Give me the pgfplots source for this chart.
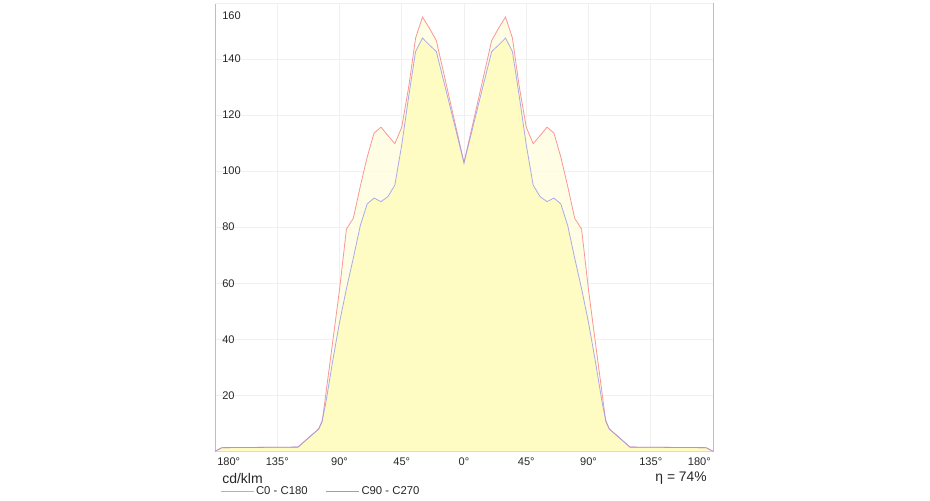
\documentclass[border=0pt]{standalone}
\usepackage{pgfplots}
\pgfplotsset{compat=1.18}
\usepackage{pgfplotstable}
\usepackage{fontspec}
\setmainfont{Liberation Sans}
\definecolor{redline}{RGB}{250,150,150}
\definecolor{blueline}{RGB}{150,150,240}
\definecolor{redfill}{RGB}{255,253,222}
\definecolor{bluefill}{RGB}{254,251,190}
\definecolor{axisgray}{RGB}{190,190,190}
\definecolor{gridgray}{RGB}{240,240,240}
\pgfplotstableread{
deg red blue
-180 0 0
-175 1.3 1.3
-120 1.5 1.5
-105 8 8
-102.5 10.6 11
-100 20 17
-95 38.8 32
-90 57.6 46
-85 79.3 58
-80 83.2 69
-75 94.5 80.5
-70 105 88.3
-65 113.6 90.4
-60 115.7 89.1
-55 112.7 90.9
-50 109.8 95
-45 115.7 109.4
-40 130 126.6
-35 147.5 142.7
-30 155 147.5
-25 151 145
-20 146.6 142.7
-15 135.7 132.8
-10 124.8 122.9
-5 113.9 112.9
0 103 103
5 113.9 112.9
10 124.8 122.9
15 135.7 132.8
20 146.6 142.7
25 151 145
30 155 147.5
35 147.5 142.7
40 130 126.6
45 115.7 109.4
50 109.8 95
55 112.7 90.9
60 115.7 89.1
65 113.6 90.4
70 105 88.3
75 94.5 80.5
80 83.2 69
85 79.3 58
90 57.6 46
95 38.8 32
100 20 17
102.5 10.6 11
105 8 8
120 1.5 1.5
175 1.3 1.3
180 0 0
}\data
\begin{document}
\begin{tikzpicture}
\path[use as bounding box] (0pt,0pt) rectangle (697.5pt,375pt);
\begin{axis}[
  at={(161.25pt,36.525pt)}, anchor=south west,
  scale only axis, width=373.5pt, height=336.2pt,
  xmin=-180, xmax=180, ymin=0, ymax=160,
  axis line style={axisgray},
  grid=major, grid style={gridgray, line width=0.5pt},
  major tick length=0pt,
  xtick={-135,-90,-45,0,45,90,135},
  xticklabels={135°,90°,45°,0°,45°,90°,135°},
  ytick={20,40,...,140},
  extra y ticks={160},
  extra y tick style={yticklabel style={yshift=-9.75pt}},
  /pgf/number format/assume math mode=true,
  tick label style={font=\fontsize{8.3pt}{10pt}\selectfont, text=black!85},
  yticklabel style={anchor=west, inner sep=0pt, xshift=5.25pt},
  xticklabel style={yshift=-1pt},
  legend columns=2,
  legend style={draw=none, fill=none, at={(axis description cs:0.01,-0.09)}, anchor=west,
    font=\fontsize{8.5pt}{10pt}\selectfont, inner sep=0pt,
    nodes={inner sep=1.5pt, text=black!85}},
  /tikz/every even column/.append style={column sep=12pt},
  legend image code/.code={\draw[#1] (0pt,0pt) -- (24.75pt,0pt);},
  clip=false,
]
\addplot[draw=none, fill=redfill, fill opacity=0.85, forget plot] table[x=deg,y=red] {\data} \closedcycle;
\addplot[draw=none, fill=bluefill, fill opacity=0.85, forget plot] table[x=deg,y=blue] {\data} \closedcycle;
\addplot[redline, line width=0.6pt, forget plot] table[x=deg,y=red] {\data};
\addplot[blueline, line width=0.6pt, opacity=0.8, forget plot] table[x=deg,y=blue] {\data};
\addlegendimage{redline, line width=0.6pt}
\addlegendentry{C0 - C180}
\addlegendimage{blueline, line width=0.6pt}
\addlegendentry{C90 - C270}
\node[anchor=north west, inner sep=0pt, font=\fontsize{8.3pt}{10pt}\selectfont, text=black!85] at ([xshift=1.5pt,yshift=-5pt]axis description cs:0,0) {180°};
\node[anchor=north east, inner sep=0pt, font=\fontsize{8.3pt}{10pt}\selectfont, text=black!85] at ([xshift=-1.5pt,yshift=-5pt]axis description cs:1,0) {180°};
\end{axis}
\node[anchor=west, inner sep=0pt, font=\fontsize{10.5pt}{12pt}\selectfont, text=black!85] at (166.5pt,16.5pt) {cd/klm};
\node[anchor=east, inner sep=0pt, font=\fontsize{10.4pt}{12pt}\selectfont, text=black!85] at (530.25pt,16.5pt) {η = 74\%};
\end{tikzpicture}
\end{document}
